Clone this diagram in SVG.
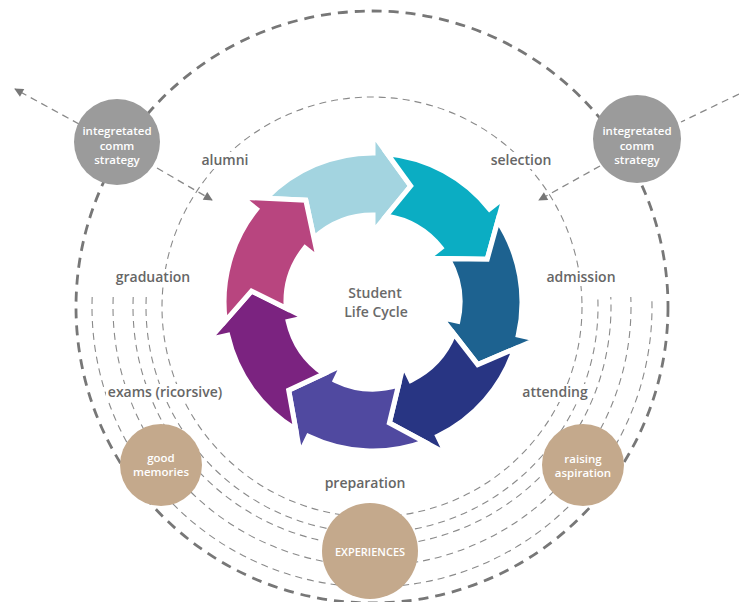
<svg xmlns="http://www.w3.org/2000/svg" xmlns:xlink="http://www.w3.org/1999/xlink" width="739" height="602" viewBox="0 0 739 602">
<style>
.lbl{font-family:"Open Sans","Liberation Sans",sans-serif;font-weight:600;font-size:14px;fill:#666666;text-anchor:middle}
.ctr{font-family:"Open Sans","Liberation Sans",sans-serif;font-weight:600;font-size:14px;fill:#6a6a6a;text-anchor:middle}
.wt{font-family:"Open Sans","Liberation Sans",sans-serif;font-weight:600;font-size:11.5px;fill:#ffffff;text-anchor:middle}
.thin{fill:none;stroke:#8a8a8a;stroke-width:1.1;stroke-dasharray:7 5}
.thick{fill:none;stroke:#777;stroke-width:2.8;stroke-dasharray:10 7}
.conn{fill:none;stroke:#888;stroke-width:1.3;stroke-dasharray:7 5}
.gray{fill:#9b9b9b}
.tan{fill:#c4a98c}
.bg{fill:#ffffff}
.arr{stroke:#ffffff;stroke-width:5;stroke-linejoin:miter;stroke-miterlimit:10}
</style>
<defs>
<marker id="ah" viewBox="0 0 10 10" refX="9" refY="5" markerWidth="10" markerHeight="9" markerUnits="userSpaceOnUse" orient="auto">
<path d="M0,0 L10,5 L0,10 Z" fill="#777"/>
</marker>
<path id="arrowShape" d="M266.02 198.36 A149 149 0 0 1 373 153 L373 134 L410.70 185.97 L373 232 L373 215 A87 87 0 0 0 313.93 238.11 L305.79 200.18 Z"/>
</defs>

<g id="rings">
<circle class="thick" cx="372" cy="307" r="296"/>
<circle class="thin" cx="372" cy="307" r="210"/>
<path class="thin" d="M146.22 297 A226 226 0 1 0 597.78 297"/>
<path class="thin" d="M133.21 297 A239 239 0 1 0 610.79 297"/>
<path class="thin" d="M113.19 297 A259 259 0 1 0 630.81 297"/>
<path class="thin" d="M92.18 297 A280 280 0 1 0 651.82 297"/>
</g>

<g id="connectors">
<line class="conn" x1="79" y1="124" x2="15" y2="89" marker-end="url(#ah)"/>
<line class="conn" x1="157" y1="168" x2="212" y2="200" marker-end="url(#ah)"/>
<line class="conn" x1="739" y1="94" x2="681" y2="122"/>
<line class="conn" x1="600" y1="166" x2="539" y2="200" marker-end="url(#ah)"/>
</g>

<g id="cycle">
<use id="arrow-1" xlink:href="#arrowShape" class="arr" fill="#a3d4e0" transform="rotate(0 373 302)"/>
<use id="arrow-2" xlink:href="#arrowShape" class="arr" fill="#0badc3" transform="rotate(51.4286 373 302)"/>
<use id="arrow-3" xlink:href="#arrowShape" class="arr" fill="#1d6290" transform="rotate(102.857 373 302)"/>
<use id="arrow-4" xlink:href="#arrowShape" class="arr" fill="#283583" transform="rotate(154.286 373 302)"/>
<use id="arrow-5" xlink:href="#arrowShape" class="arr" fill="#5049a0" transform="rotate(205.714 373 302)"/>
<use id="arrow-6" xlink:href="#arrowShape" class="arr" fill="#7b2380" transform="rotate(257.143 373 302)"/>
<use id="arrow-7" xlink:href="#arrowShape" class="arr" fill="#b8457f" transform="rotate(308.571 373 302)"/>
</g>

<g id="center-label">
<text class="ctr" x="375" y="298">Student</text>
<text class="ctr" x="376" y="317">Life Cycle</text>
</g>

<g id="label-alumni"><rect class="bg" x="200" y="152" width="50" height="17"/><text class="lbl" x="225" y="165">alumni</text></g>
<g id="label-selection"><rect class="bg" x="489" y="152" width="64" height="17"/><text class="lbl" x="521" y="165">selection</text></g>
<g id="label-graduation"><rect class="bg" x="115" y="269" width="77" height="18"/><text class="lbl" x="153" y="282">graduation</text></g>
<g id="label-admission"><rect class="bg" x="545" y="269" width="72" height="17"/><text class="lbl" x="581" y="282">admission</text></g>
<g id="label-exams"><rect class="bg" x="106" y="384" width="120" height="18"/><text class="lbl" x="165" y="397">exams (ricorsive)</text></g>
<g id="label-attending"><rect class="bg" x="521" y="384" width="68" height="18"/><text class="lbl" x="555" y="397">attending</text></g>
<g id="label-preparation"><text class="lbl" x="365" y="488">preparation</text></g>

<g id="node-comm-left">
<circle class="gray" cx="117" cy="142" r="43"/>
<text class="wt" x="117" y="135">integretated</text>
<text class="wt" x="117" y="149.5">comm</text>
<text class="wt" x="117" y="164">strategy</text>
</g>
<g id="node-comm-right">
<circle class="gray" cx="637" cy="139" r="44"/>
<text class="wt" x="637" y="135">integretated</text>
<text class="wt" x="637" y="149.5">comm</text>
<text class="wt" x="637" y="164">strategy</text>
</g>
<g id="node-good-memories">
<circle class="tan" cx="161" cy="465" r="41"/>
<text class="wt" x="161" y="462">good</text>
<text class="wt" x="161" y="476">memories</text>
</g>
<g id="node-raising-aspiration">
<circle class="tan" cx="583" cy="465" r="41"/>
<text class="wt" x="583" y="463">raising</text>
<text class="wt" x="583" y="477">aspiration</text>
</g>
<g id="node-experiences">
<circle class="tan" cx="370" cy="551" r="48"/>
<text class="wt" x="370" y="556" style="font-size:11px">EXPERIENCES</text>
</g>
</svg>
